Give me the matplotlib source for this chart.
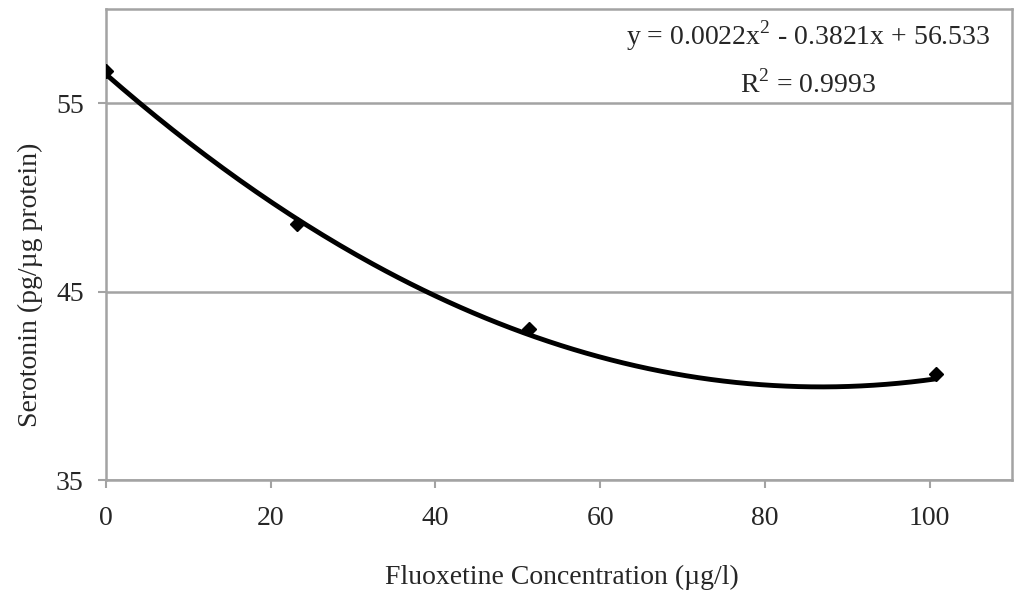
import numpy as np
import matplotlib.pyplot as plt

# data
fluoxetine = [0.0, 23.2, 51.3, 100.8]        # ug/l
serotonin = [56.7, 48.6, 43.0, 40.6]         # pg/ug protein
trend_coef = [0.0022, -0.3821, 56.533]       # polynomial trendline (order 2)
equation_text = "y = 0.0022x$^2$ - 0.3821x + 56.533"
r2_text = "R$^2$ = 0.9993"
x_ticks = [0, 20, 40, 60, 80, 100]
y_ticks = [35, 45, 55]

plt.rcParams['font.family'] = ['Liberation Serif', 'DejaVu Serif']
plt.rcParams['mathtext.fontset'] = 'custom'
plt.rcParams['mathtext.rm'] = 'Liberation Serif'

W, H = 1020, 597
fig = plt.figure(figsize=(W / 100, H / 100), dpi=100)
ax = fig.add_axes([106 / W, (H - 480) / H, (1012 - 106) / W, (480 - 9) / H])

grey = '#a3a3a3'
txt = '#262626'

# trendline over the range of the data
xs = np.linspace(min(fluoxetine), max(fluoxetine), 200)
ax.plot(xs, np.polyval(trend_coef, xs), color='black', lw=3.5, zorder=3,
        solid_capstyle='round')
ax.plot(fluoxetine, serotonin, 'D', color='black', ms=7, zorder=4)

ax.set_xlim(0, 110)
ax.set_ylim(35, 60)
ax.set_xticks(x_ticks)
ax.set_yticks(y_ticks)
ax.yaxis.grid(True, color=grey, lw=1.8)
ax.set_axisbelow(True)
for s in ax.spines.values():
    s.set_color(grey)
    s.set_linewidth(1.8)
ax.tick_params(axis='both', colors=grey, width=1.5, length=6, labelcolor=txt,
               labelsize=20)
ax.tick_params(axis='x', pad=13)
ax.tick_params(axis='y', pad=10)

fig.text(562 / W, 1 - 577 / H, "Fluoxetine Concentration (µg/l)", ha='center',
         va='center', fontsize=20, color=txt)
fig.text(30 / W, 1 - 285 / H, "Serotonin (pg/µg protein)", ha='center',
         va='center', rotation=90, fontsize=20, color=txt)

ax.text(808 / W, 1 - 36 / H, equation_text, transform=fig.transFigure,
        ha='center', va='center', fontsize=20, color=txt)
ax.text(808 / W, 1 - 84 / H, r2_text, transform=fig.transFigure,
        ha='center', va='center', fontsize=20, color=txt)

fig.savefig('out.png', dpi=100)
